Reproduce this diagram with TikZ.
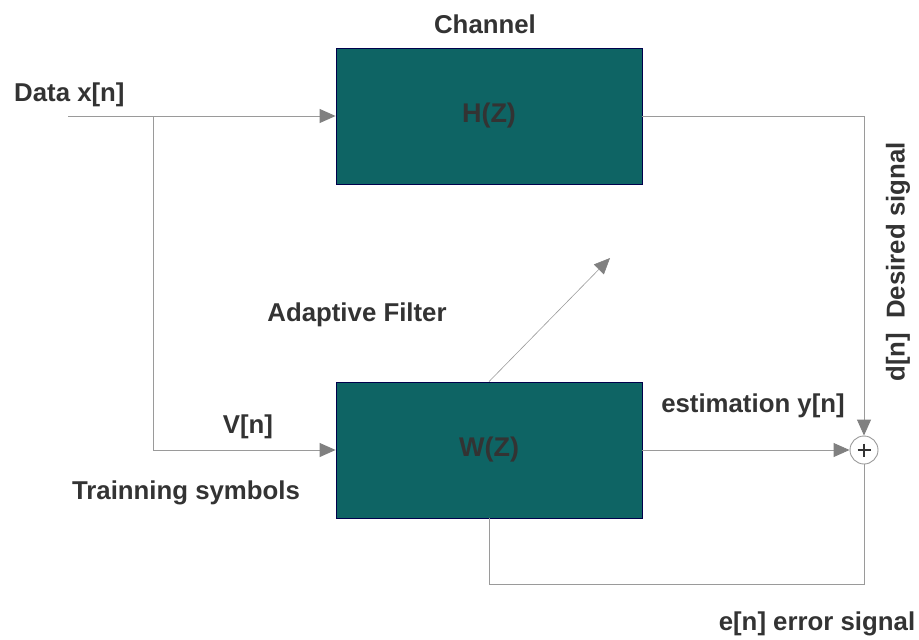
\documentclass[tikz,border=0pt]{standalone}
\usepackage{fontspec}
\setmainfont{Liberation Sans}
\usetikzlibrary{arrows.meta,calc}
\definecolor{teal1}{HTML}{0E6464}
\definecolor{txt}{HTML}{333333}
\definecolor{ln}{HTML}{9A9A9A}
\definecolor{tip}{HTML}{808080}
\begin{document}
\begin{tikzpicture}[x=1pt,y=-1pt,
  blk/.style={draw=black!70!blue,line width=0.8pt,fill=teal1,minimum width=306pt,minimum height=136pt,inner sep=0pt,font=\fontsize{27}{30}\selectfont\bfseries,text=txt},
  lbl/.style={font=\fontsize{25.8}{30}\selectfont\bfseries,text=txt,inner sep=0pt},
  wire/.style={draw=ln,line width=0.9pt},
  arr/.style={wire,-{Triangle[length=16pt,width=14pt,fill=tip,color=tip]}},
  sum/.style={circle,draw=ln,line width=0.9pt,minimum size=28pt,inner sep=0pt,fill=white}]
\useasboundingbox (0,0) rectangle (919,640);
\node[blk] (H) at (489,116) {H(Z)};
\node[blk] (W) at (489,450) {W(Z)};
\node[sum] (S) at (864,450) {};
\draw[txt,line width=2pt] ($(S)+(-6.5,0)$) -- ($(S)+(6.5,0)$) ($(S)+(0,-6.5)$) -- ($(S)+(0,6.5)$);
\coordinate (in) at (68,116);
\coordinate (br) at (153,116);
\coordinate (hr) at (864,116);
\coordinate (fb1) at (864,584);
\coordinate (fb2) at (489,584);
\coordinate (dg) at (610,258);
\draw[arr] (in) -- (H.west);
\draw[arr] (br) |- (W.west);
\draw[wire] (H.east |- hr) -- (hr);
\draw[arr] (hr) -- (S.north);
\draw[arr] (W.east) -- (S.west);
\draw[wire] (S.south) -- (fb1) -- (fb2) -- (W.south);
\draw[arr,line width=0.6pt] (W.north) -- (dg);
\node[lbl] (tch) at (485,24) {Channel};
\node[lbl,anchor=west] (tdata) at (14,95) {Data x[n]};
\node[lbl] (tad) at (357,315) {Adaptive Filter};
\node[lbl] (tv) at (248,427) {V[n]};
\node[lbl] (test) at (753,406) {estimation y[n]};
\node[lbl] (ttr) at (186,493) {Trainning symbols};
\node[lbl] (terr) at (817,624) {e[n] error signal};
\node[lbl,rotate=90] (tdes) at (898,262) {d[n]\ \ Desired signal};
\end{tikzpicture}
\end{document}
